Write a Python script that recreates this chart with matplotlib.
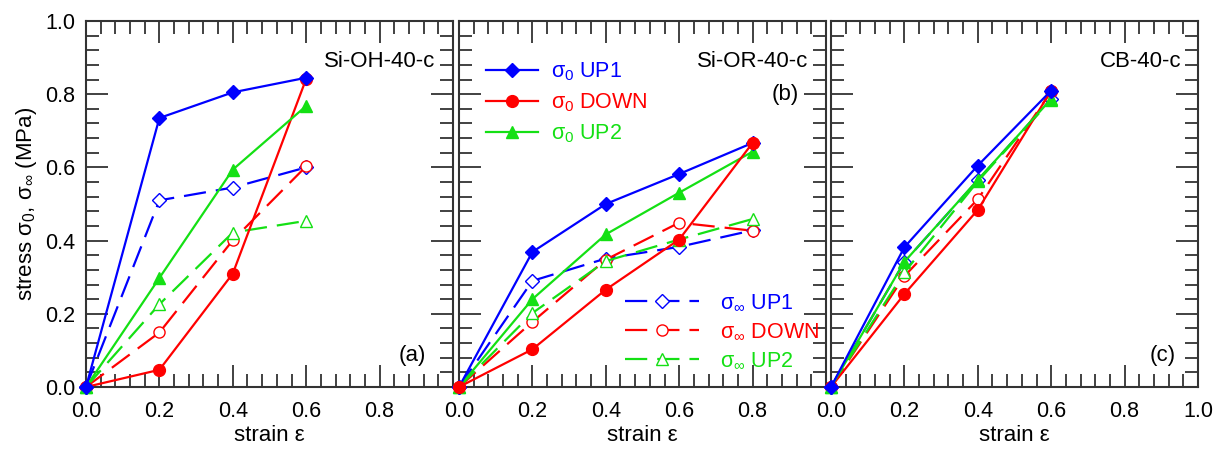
import matplotlib
matplotlib.use("Agg")
import matplotlib.pyplot as plt
from matplotlib.ticker import MultipleLocator, FormatStrFormatter

plt.rcParams['font.family'] = ['Liberation Sans', 'DejaVu Sans']
plt.rcParams['mathtext.fontset'] = 'custom'
plt.rcParams['mathtext.rm'] = 'Liberation Sans'
plt.rcParams['mathtext.it'] = 'Liberation Sans'

# ---- data ----
names = ['Si-OH-40-c', 'Si-OR-40-c', 'CB-40-c']
tags = ['(a)', '(b)', '(c)']

strain_a = [0.0, 0.2, 0.4, 0.6]
up1_0_a = [0.0, 0.735, 0.805, 0.845]
down_0_a = [0.0, 0.047, 0.31, 0.842]
up2_0_a = [0.0, 0.298, 0.594, 0.768]
up1_inf_a = [0.0, 0.51, 0.545, 0.60]
down_inf_a = [0.0, 0.149, 0.401, 0.603]
up2_inf_a = [0.0, 0.226, 0.422, 0.454]

strain_b = [0.0, 0.2, 0.4, 0.6, 0.8]
up1_0_b = [0.0, 0.369, 0.50, 0.582, 0.667]
down_0_b = [0.0, 0.103, 0.266, 0.403, 0.667]
up2_0_b = [0.0, 0.24, 0.417, 0.531, 0.643]
up1_inf_b = [0.0, 0.29, 0.351, 0.383, 0.428]
down_inf_b = [0.0, 0.178, 0.348, 0.449, 0.427]
up2_inf_b = [0.0, 0.202, 0.344, 0.403, 0.459]

strain_c = [0.0, 0.2, 0.4, 0.6]
up1_0_c = [0.0, 0.382, 0.605, 0.81]
down_0_c = [0.0, 0.254, 0.484, 0.81]
up2_0_c = [0.0, 0.342, 0.566, 0.787]
up1_inf_c = [0.0, 0.342, 0.565, 0.787]
down_inf_c = [0.0, 0.303, 0.513, 0.808]
up2_inf_c = [0.0, 0.313, 0.562, 0.785]

panels = [
    (strain_a, up1_0_a, down_0_a, up2_0_a, up1_inf_a, down_inf_a, up2_inf_a),
    (strain_b, up1_0_b, down_0_b, up2_0_b, up1_inf_b, down_inf_b, up2_inf_b),
    (strain_c, up1_0_c, down_0_c, up2_0_c, up1_inf_c, down_inf_c, up2_inf_c),
]

blue = '#0000ff'
red = '#ff0000'
green = '#14e014'
dark = '#333333'
fs_tick = 15.5
fs = 16
fs_leg = 15.5

fig = plt.figure(figsize=(12.2, 4.51), dpi=100)
lefts = [86, 459, 831]
axes = []
for L in lefts:
    axes.append(fig.add_axes([L / 1220, 1 - 387 / 451, 367 / 1220, 366 / 451]))

dash = (10, 4.5)
for i, ax in enumerate(axes):
    x, u1, d0, u2, u1i, d0i, u2i = panels[i]
    kw = dict(lw=1.6, clip_on=False)
    # sigma_inf, dashed, open markers
    ax.plot(x, u1i, color=blue, ls='--', dashes=dash, marker='D', ms=7, mfc='white', mec=blue,
            label='σ$_\\infty$ UP1', **kw)
    ax.plot(x, d0i, color=red, ls='--', dashes=dash, marker='o', ms=8, mfc='white', mec=red,
            label='σ$_\\infty$ DOWN', **kw)
    ax.plot(x, u2i, color=green, ls='--', dashes=dash, marker='^', ms=8, mfc='white', mec=green,
            label='σ$_\\infty$ UP2', **kw)
    # sigma_0, solid, filled markers
    z_down = 5 if i == 1 else 3
    ax.plot(x, u1, color=blue, marker='D', ms=7.5, label='σ$_0$ UP1', zorder=4, **kw)
    ax.plot(x, d0, color=red, marker='o', ms=8.5, label='σ$_0$ DOWN', zorder=z_down, **kw)
    ax.plot(x, u2, color=green, marker='^', ms=8.5, label='σ$_0$ UP2', zorder=3.5, **kw)

    ax.set_xlim(0, 1.0)
    ax.set_ylim(0, 1.0)
    ax.xaxis.set_major_locator(MultipleLocator(0.2))
    ax.xaxis.set_minor_locator(MultipleLocator(0.04))
    ax.yaxis.set_major_locator(MultipleLocator(0.2))
    ax.yaxis.set_minor_locator(MultipleLocator(0.04))
    ax.tick_params(which='both', direction='in', top=True, right=True, colors=dark,
                   labelcolor='black', labelsize=fs_tick)
    ax.tick_params(which='major', length=15.5, width=1.3)
    ax.tick_params(which='minor', length=9.5, width=1.3)
    ax.tick_params(axis='x', which='major', pad=10)
    ax.tick_params(axis='y', which='major', pad=8)
    for s in ax.spines.values():
        s.set_color(dark)
        s.set_linewidth(1.5)

    if i < 2:
        ax.set_xticks([0.0, 0.2, 0.4, 0.6, 0.8])
    ax.xaxis.set_major_formatter(FormatStrFormatter('%.1f'))
    ax.yaxis.set_major_formatter(FormatStrFormatter('%.1f'))
    if i > 0:
        ax.tick_params(labelleft=False)
    ax.set_xlabel('strain ε', fontsize=fs, labelpad=2)

axes[0].set_ylabel('stress σ$_0$, σ$_\\infty$ (MPa)', fontsize=fs, labelpad=4)

# panel labels
axes[0].text(0.951, 0.888, names[0], transform=axes[0].transAxes, ha='right', va='center', fontsize=fs)
axes[0].text(0.927, 0.087, tags[0], transform=axes[0].transAxes, ha='right', va='center', fontsize=fs)
axes[1].text(0.951, 0.888, names[1], transform=axes[1].transAxes, ha='right', va='center', fontsize=fs)
axes[1].text(0.926, 0.798, tags[1], transform=axes[1].transAxes, ha='right', va='center', fontsize=fs)
axes[2].text(0.956, 0.888, names[2], transform=axes[2].transAxes, ha='right', va='center', fontsize=fs)
axes[2].text(0.94, 0.087, tags[2], transform=axes[2].transAxes, ha='right', va='center', fontsize=fs)

# legends in panel (b)
h, l = axes[1].get_legend_handles_labels()
leg1 = axes[1].legend(h[3:], l[3:], loc='upper left', bbox_to_anchor=(0.05, 0.915), frameon=False,
                      fontsize=fs_leg, handlelength=2.4, handletextpad=0.6, labelspacing=0.38,
                      borderaxespad=0)
for t, c in zip(leg1.get_texts(), [blue, red, green]):
    t.set_color(c)
axes[1].add_artist(leg1)
leg2 = axes[1].legend(h[:3], l[:3], loc='lower left', bbox_to_anchor=(0.43, 0.018), frameon=False,
                      fontsize=fs_leg, handlelength=3.4, handletextpad=1.0, labelspacing=0.38,
                      borderaxespad=0)
for t, c in zip(leg2.get_texts(), [blue, red, green]):
    t.set_color(c)

fig.savefig('out.png', dpi=100)
